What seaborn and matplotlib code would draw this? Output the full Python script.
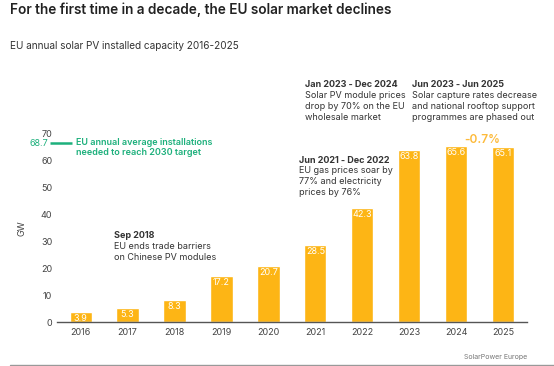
import numpy as np
import pandas as pd
import matplotlib
matplotlib.use("Agg")
import matplotlib.pyplot as plt
import matplotlib.transforms as mtransforms
import seaborn as sns

# data
years = ["2016", "2017", "2018", "2019", "2020", "2021", "2022", "2023", "2024", "2025"]
installed_gw = [3.9, 5.3, 8.3, 17.2, 20.7, 28.5, 42.3, 63.8, 65.6, 65.1]
target_gw = 68.7
change_label = "-0.7%"

title = "For the first time in a decade, the EU solar market declines"
subtitle = "EU annual solar PV installed capacity 2016-2025"

bar_color = "#FDB515"
green = "#1DB07C"
text_color = "#333333"

sns.set_theme(style="white")
plt.rcParams["font.family"] = ["Inter", "DejaVu Sans"]

df = pd.DataFrame({"year": years, "gw": installed_gw})

fig = plt.figure(figsize=(5.54, 3.66), dpi=100)
ax = fig.add_axes([0.103, 0.120, 0.848, 0.689])

sns.barplot(data=df, x="year", y="gw", color=bar_color, width=0.47,
            saturation=1, ax=ax)
ax.set_xlim(-0.5, 9.5)
ax.set_ylim(0, 93.7)
ax.set_yticks(range(0, 71, 10))
ax.tick_params(axis="both", length=0, labelsize=6.5, labelcolor="#444444")
ax.tick_params(axis="x", pad=4)
ax.set_xlabel("")
ax.set_ylabel("GW", fontsize=6.5, color="#444444")
ax.yaxis.set_label_coords(-0.065, 35 / 93.7)
for s in ["top", "right", "left"]:
    ax.spines[s].set_visible(False)
ax.spines["bottom"].set_color("#555555")
ax.spines["bottom"].set_linewidth(1)

# value labels inside the bars
ax.bar_label(ax.containers[0], labels=[f"{v}" for v in installed_gw],
             padding=-8, color="white", fontsize=6.5)

# 2030 target marker, nudged a few pixels down like the original
shift = mtransforms.ScaledTranslation(0, -6 / 100, fig.dpi_scale_trans)
tr = ax.transData + shift
ax.plot([-0.64, -0.18], [target_gw, target_gw], color=green, lw=1.8,
        transform=tr, clip_on=False, solid_capstyle="butt")
ax.text(-0.69, target_gw, f"{target_gw}", color=green, fontsize=6.5,
        ha="right", va="center", transform=tr, clip_on=False)
ax.text(-0.09, target_gw, "EU annual average installations\nneeded to reach 2030 target",
        color=green, fontsize=6.5, fontweight="semibold", ha="left", va="top",
        transform=ax.transData + mtransforms.ScaledTranslation(0, -0.5 / 100, fig.dpi_scale_trans),
        linespacing=1.25, clip_on=False)

# event annotations
notes = [
    (0.72, 32.0, "Sep 2018", "EU ends trade barriers\non Chinese PV modules"),
    (4.66, 60.2, "Jun 2021 - Dec 2022", "EU gas prices soar by\n77% and electricity\nprices by 76%"),
    (4.77, 88.1, "Jan 2023 - Dec 2024", "Solar PV module prices\ndrop by 70% on the EU\nwholesale market"),
    (7.06, 88.1, "Jun 2023 - Jun 2025", "Solar capture rates decrease\nand national rooftop support\nprogrammes are phased out"),
]
for x, y, head, body in notes:
    ax.text(x, y, head, fontsize=6.5, fontweight="bold", color=text_color,
            ha="left", va="center", clip_on=False)
    ax.text(x, y - 2.2, body, fontsize=6.5, color=text_color,
            ha="left", va="top", linespacing=1.3, clip_on=False)

ax.text(8.55, 67.7, change_label, fontsize=8.5, color="#FDBA3A",
        fontweight="semibold", ha="center", va="center")

fig.text(0.018, 0.974, title, fontsize=9.8, fontweight="semibold",
         color="#222222", ha="left", va="center")
fig.text(0.018, 0.874, subtitle, fontsize=7.2, color="#333333",
         ha="left", va="center")

fig.add_artist(plt.Line2D([0.018, 1.0], [0.003, 0.003], color="#999999", lw=1))
fig.text(0.952, 0.024, "SolarPower Europe", fontsize=5, color="#777777",
         ha="right", va="center")

fig.savefig("out.png", dpi=100)
